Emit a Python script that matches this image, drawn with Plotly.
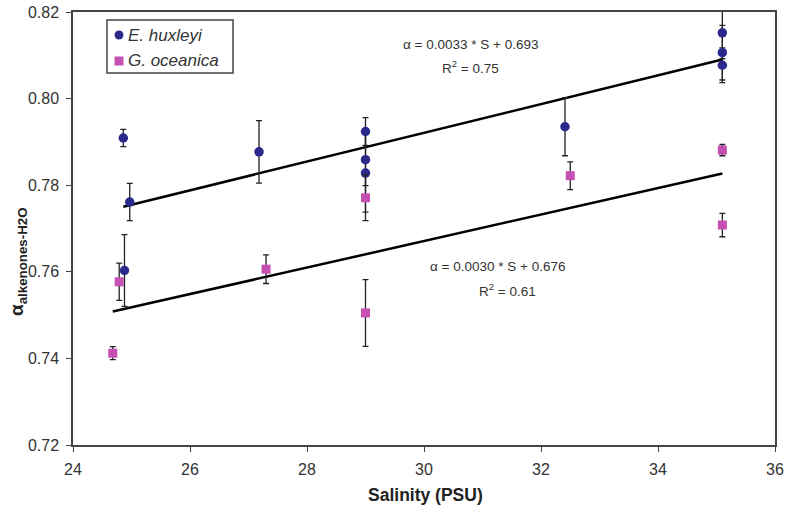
import plotly.graph_objects as go

# E. huxleyi
ehux_s = [24.86, 24.97, 24.88, 27.18, 29.0, 29.0, 29.0, 32.41, 35.1, 35.1, 35.1]
ehux_a = [0.7909, 0.7761, 0.7603, 0.7877, 0.7924, 0.7859, 0.7828, 0.7935, 0.8152, 0.8106, 0.8077]
ehux_e = [0.0020, 0.0043, 0.0083, 0.0072, 0.0032, 0.0060, 0.0090, 0.0067, 0.0060, 0.0063, 0.0040]

# G. oceanica
goce_s = [24.68, 24.79, 27.30, 29.0, 29.0, 32.50, 35.1, 35.1]
goce_a = [0.7412, 0.7577, 0.7606, 0.7771, 0.7505, 0.7822, 0.7881, 0.7708]
goce_e = [0.0015, 0.0043, 0.0033, 0.0053, 0.0077, 0.0032, 0.0013, 0.0027]

# regression fits (slope, intercept)
ehux_fit = (0.00332, 0.6925)
goce_fit = (0.00306, 0.6753)

x_ticks = [24, 26, 28, 30, 32, 34, 36]
y_ticks = [0.72, 0.74, 0.76, 0.78, 0.80, 0.82]

blue = "#2b2a8c"
mag = "#c54fb3"
font_family = "Liberation Sans, Arial, sans-serif"

W, H = 785, 512
ML, MR, MT, MB = 73, 10, 12, 67
PW, PH = W - ML - MR, H - MT - MB

def px(x):
    return (x - ML) / PW

def py(y):
    return 1 - (y - MT) / PH

fig = go.Figure()

def fit_line(s, fit):
    x0, x1 = min(s), max(s)
    return [x0, x1], [fit[0] * x0 + fit[1], fit[0] * x1 + fit[1]]

for s, fit in ((ehux_s, ehux_fit), (goce_s, goce_fit)):
    fx, fy = fit_line(s, fit)
    fig.add_trace(go.Scatter(x=fx, y=fy, mode="lines", line=dict(color="black", width=2.5),
                             showlegend=False, hoverinfo="skip"))

fig.add_trace(go.Scatter(
    x=ehux_s, y=ehux_a, mode="markers", name="E. huxleyi", showlegend=False, cliponaxis=False,
    marker=dict(symbol="circle", size=9.5, color=blue),
    error_y=dict(type="data", array=ehux_e, visible=True, color="#222", thickness=1.3, width=3),
))
fig.add_trace(go.Scatter(
    x=goce_s, y=goce_a, mode="markers", name="G. oceanica", showlegend=False,
    marker=dict(symbol="square", size=9, color=mag),
    error_y=dict(type="data", array=goce_e, visible=True, color="#222", thickness=1.3, width=3),
))

ann_font = dict(family=font_family, size=13.5, color="#333")
fig.add_annotation(x=30.8, y=0.8125, text="α = 0.0033 * S + 0.693", showarrow=False, font=ann_font)
fig.add_annotation(x=30.8, y=0.8073, text="R<sup>2</sup> = 0.75", showarrow=False, font=ann_font)
fig.add_annotation(x=31.25, y=0.7613, text="α = 0.0030 * S + 0.676", showarrow=False, font=ann_font)
fig.add_annotation(x=31.42, y=0.7558, text="R<sup>2</sup> = 0.61", showarrow=False, font=ann_font)

# legend (box, symbols, labels)
fig.add_shape(type="rect", xref="paper", yref="paper", x0=px(107), x1=px(233), y0=py(73), y1=py(20),
              line=dict(color="#444", width=1.5), fillcolor="white", layer="above")
fig.add_shape(type="circle", xref="paper", yref="paper", xsizemode="pixel", ysizemode="pixel",
              xanchor=px(119), yanchor=py(35), x0=-4.5, x1=4.5, y0=-4.5, y1=4.5,
              fillcolor=blue, line=dict(width=0), layer="above")
fig.add_shape(type="rect", xref="paper", yref="paper", xsizemode="pixel", ysizemode="pixel",
              xanchor=px(119), yanchor=py(61), x0=-4.5, x1=4.5, y0=-4.5, y1=4.5,
              fillcolor=mag, line=dict(width=0), layer="above")
leg_font = dict(family=font_family, size=17, color="#333")
fig.add_annotation(xref="paper", yref="paper", x=px(126), y=py(35), xanchor="left", yanchor="middle",
                   text="<i>E. huxleyi</i>", showarrow=False, font=leg_font)
fig.add_annotation(xref="paper", yref="paper", x=px(126), y=py(61), xanchor="left", yanchor="middle",
                   text="<i>G. oceanica</i>", showarrow=False, font=leg_font)

# axis titles
fig.add_annotation(xref="paper", yref="paper", x=px(426), y=py(495), xanchor="center", yanchor="middle",
                   text="<b>Salinity (PSU)</b>", showarrow=False,
                   font=dict(family=font_family, size=17.5, color="#222"))
fig.add_annotation(xref="paper", yref="paper", x=px(18), y=py(262), xanchor="center", yanchor="middle",
                   text="<b>α<sub>alkenones-H2O</sub></b>", textangle=-90, showarrow=False,
                   font=dict(family=font_family, size=19, color="#222"))

fig.update_layout(
    width=W, height=H,
    margin=dict(l=ML, r=MR, t=MT, b=MB),
    paper_bgcolor="white", plot_bgcolor="white",
    font=dict(family=font_family, size=16, color="#333"),
    showlegend=False,
    xaxis=dict(range=[24, 36], tickvals=x_ticks, ticks="outside", ticklen=5, ticklabelstandoff=4,
               tickcolor="#444", showline=True, linecolor="#444", linewidth=1.5,
               mirror=True, showgrid=False, zeroline=False, automargin=False),
    yaxis=dict(range=[0.72, 0.82], tickvals=y_ticks, tickformat=".2f", ticks="outside", ticklen=5,
               ticklabelstandoff=4,
               tickcolor="#444", showline=True, linecolor="#444", linewidth=1.5,
               mirror=True, showgrid=False, zeroline=False, automargin=False),
)

fig.write_html("out.html")
